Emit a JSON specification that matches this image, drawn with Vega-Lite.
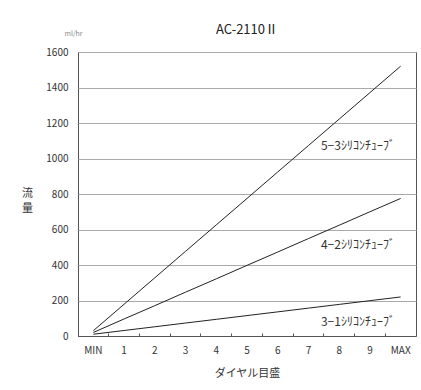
{
  "$schema": "https://vega.github.io/schema/vega-lite/v6.json",
  "width": 338,
  "height": 284,
  "autosize": {"type": "none"},
  "padding": {"left": 78, "top": 52, "right": 5, "bottom": 54},
  "background": "white",
  "title": {"text": "AC-2110Ⅱ", "fontSize": 13, "fontWeight": "normal", "font": "Noto Sans CJK JP", "color": "#222", "offset": -8},
  "datasets": {
    "flow": [
      {"dial": "MIN", "tube": "5-3", "flow": 30},
      {"dial": "1", "tube": "5-3", "flow": 179},
      {"dial": "2", "tube": "5-3", "flow": 328},
      {"dial": "3", "tube": "5-3", "flow": 477},
      {"dial": "4", "tube": "5-3", "flow": 626},
      {"dial": "5", "tube": "5-3", "flow": 775},
      {"dial": "6", "tube": "5-3", "flow": 924},
      {"dial": "7", "tube": "5-3", "flow": 1073},
      {"dial": "8", "tube": "5-3", "flow": 1222},
      {"dial": "9", "tube": "5-3", "flow": 1371},
      {"dial": "MAX", "tube": "5-3", "flow": 1520},
      {"dial": "MIN", "tube": "4-2", "flow": 20},
      {"dial": "1", "tube": "4-2", "flow": 96},
      {"dial": "2", "tube": "4-2", "flow": 171},
      {"dial": "3", "tube": "4-2", "flow": 247},
      {"dial": "4", "tube": "4-2", "flow": 322},
      {"dial": "5", "tube": "4-2", "flow": 398},
      {"dial": "6", "tube": "4-2", "flow": 473},
      {"dial": "7", "tube": "4-2", "flow": 549},
      {"dial": "8", "tube": "4-2", "flow": 624},
      {"dial": "9", "tube": "4-2", "flow": 700},
      {"dial": "MAX", "tube": "4-2", "flow": 775},
      {"dial": "MIN", "tube": "3-1", "flow": 10},
      {"dial": "1", "tube": "3-1", "flow": 31},
      {"dial": "2", "tube": "3-1", "flow": 52},
      {"dial": "3", "tube": "3-1", "flow": 73},
      {"dial": "4", "tube": "3-1", "flow": 94},
      {"dial": "5", "tube": "3-1", "flow": 115},
      {"dial": "6", "tube": "3-1", "flow": 136},
      {"dial": "7", "tube": "3-1", "flow": 157},
      {"dial": "8", "tube": "3-1", "flow": 178},
      {"dial": "9", "tube": "3-1", "flow": 199},
      {"dial": "MAX", "tube": "3-1", "flow": 220}
    ],
    "labels": [
      {"dial": "9", "flow": 1068, "label": "5−3ｼﾘｺﾝﾁｭｰﾌﾞ"},
      {"dial": "9", "flow": 514, "label": "4−2ｼﾘｺﾝﾁｭｰﾌﾞ"},
      {"dial": "9", "flow": 79, "label": "3−1ｼﾘｺﾝﾁｭｰﾌﾞ"}
    ]
  },
  "layer": [
    {
      "data": {"name": "flow"},
      "mark": {"type": "line", "color": "#222", "strokeWidth": 1},
      "encoding": {
        "x": {
          "field": "dial", "type": "ordinal",
          "sort": ["MIN", "1", "2", "3", "4", "5", "6", "7", "8", "9", "MAX"],
          "scale": {"type": "band", "paddingInner": 0, "paddingOuter": 0},
          "axis": {
            "title": "ダイヤル目盛", "labelAngle": 0, "bandPosition": 0,
            "tickSize": -3, "labelPadding": 12, "titlePadding": 12
          }
        },
        "y": {
          "field": "flow", "type": "quantitative",
          "scale": {"domain": [0, 1600], "nice": false},
          "axis": {
            "title": ["流", "量"], "titleAngle": 0, "titleX": -51, "titleY": 135,
            "titleAlign": "center", "titleBaseline": "top", "titleLineHeight": 15,
            "values": [0, 200, 400, 600, 800, 1000, 1200, 1400, 1600], "format": "d",
            "ticks": false, "domain": false, "labelPadding": 10
          }
        },
        "detail": {"field": "tube"}
      }
    },
    {
      "data": {"name": "labels"},
      "mark": {"type": "text", "font": "Noto Sans CJK JP", "fontSize": 12, "color": "#333", "dx": -12, "align": "center", "baseline": "middle"},
      "encoding": {
        "x": {
          "field": "dial", "type": "ordinal",
          "sort": ["MIN", "1", "2", "3", "4", "5", "6", "7", "8", "9", "MAX"]
        },
        "y": {
          "field": "flow", "type": "quantitative",
          "scale": {"domain": [0, 1600], "nice": false},
          "axis": {
            "title": "ml/hr", "titleAngle": 0, "titleX": -5, "titleY": -19,
            "titleAlign": "center", "titleBaseline": "middle",
            "titleFontSize": 7, "titleColor": "#888", "titleFontWeight": "normal",
            "labels": false, "ticks": false, "domain": false, "grid": false, "orient": "left"
          }
        },
        "text": {"field": "label"}
      }
    }
  ],
  "resolve": {"axis": {"y": "independent"}},
  "config": {
    "font": "Noto Sans CJK JP",
    "view": {"stroke": "#555", "strokeWidth": 1},
    "axis": {
      "labelFont": "Noto Sans CJK JP", "labelFontSize": 10, "labelColor": "#333",
      "titleFont": "Noto Sans CJK JP", "titleFontSize": 11, "titleFontWeight": "normal", "titleColor": "#333",
      "gridColor": "#aaa", "gridOpacity": 1, "domainColor": "#555", "tickColor": "#555"
    },
    "axisX": {"grid": false}
  }
}
